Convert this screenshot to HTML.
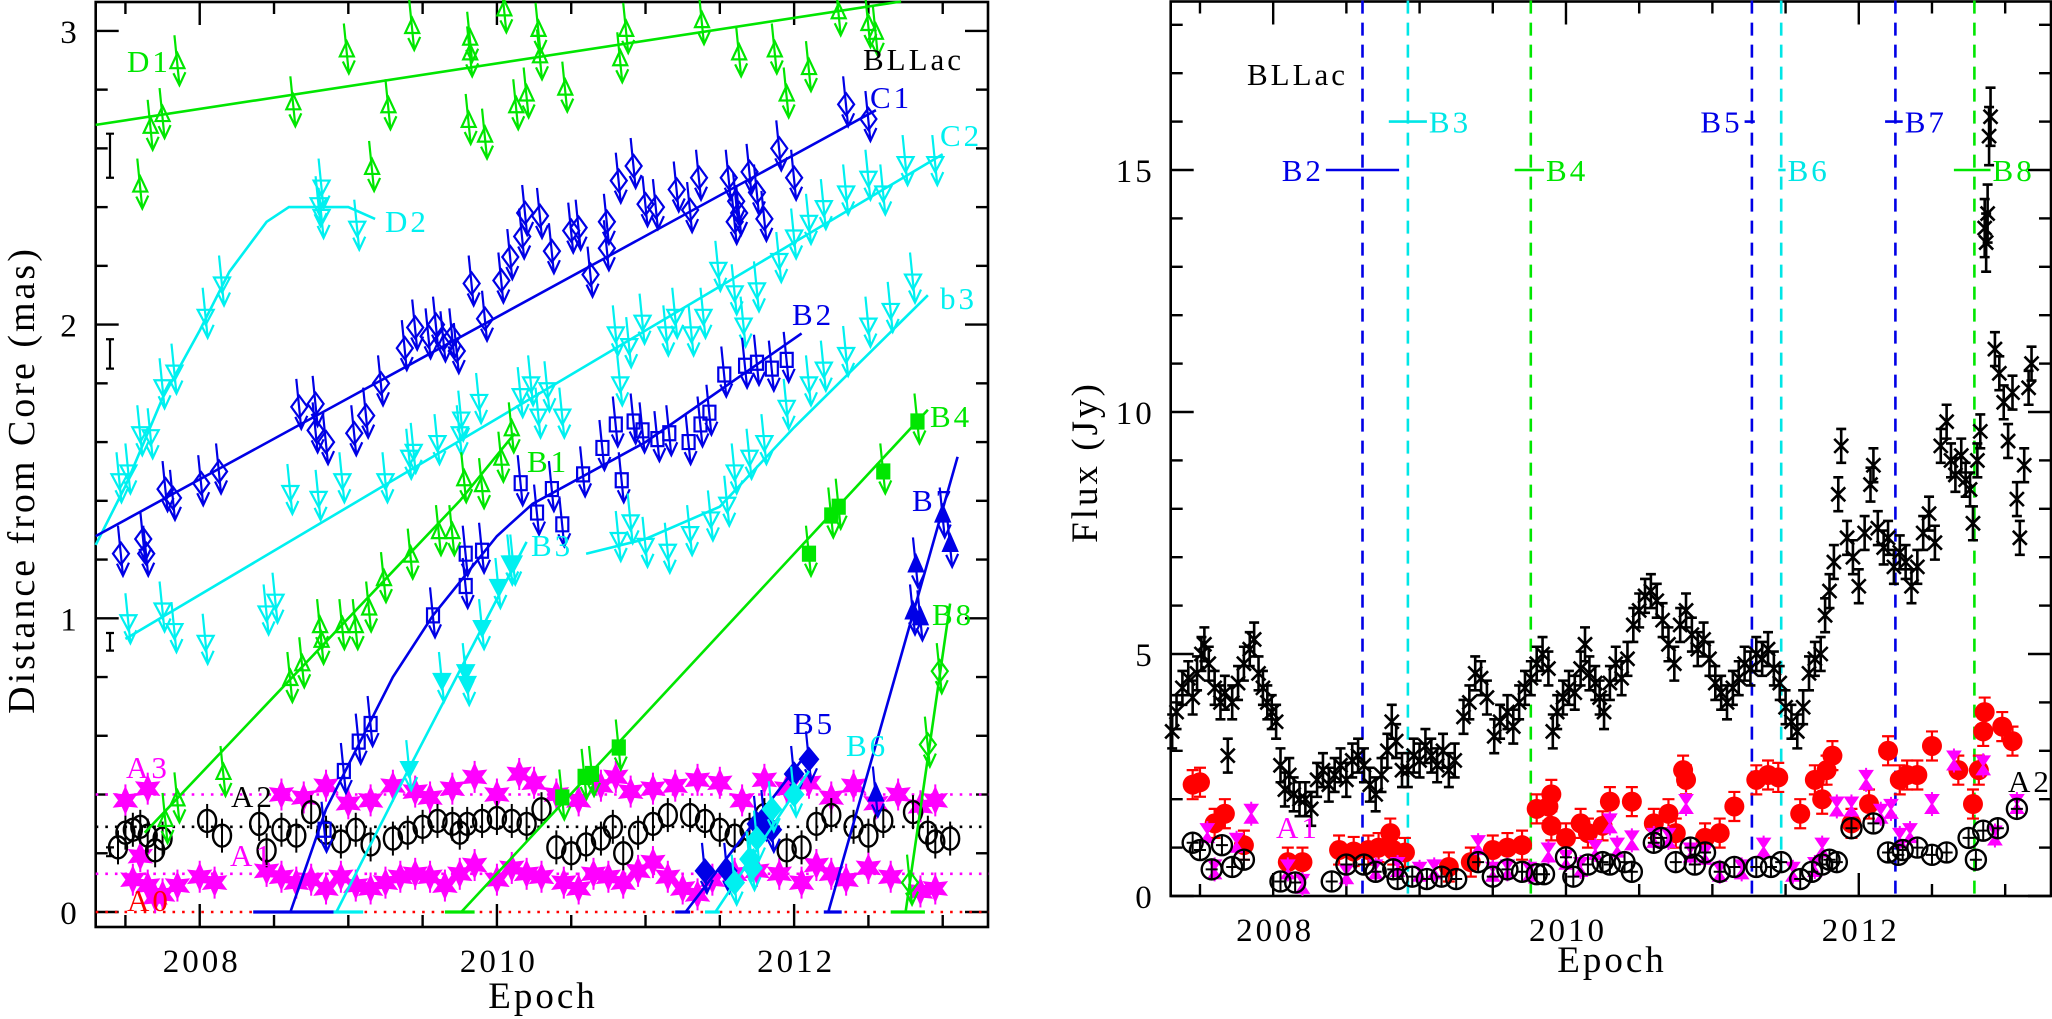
<!DOCTYPE html>
<html><head><meta charset="utf-8"><style>
html,body{margin:0;padding:0;background:#fff;}
svg{display:block;}
text{font-family:"Liberation Serif",serif;letter-spacing:3px;}
</style></head><body>
<svg id="fig" width="2052" height="1019" viewBox="0 0 2052 1019" xmlns="http://www.w3.org/2000/svg">
<rect x="0" y="0" width="2052" height="1019" fill="#fff"/>
<g id="left"></g>
<g id="right"></g>
</svg>
<script>
// ===== LEFT PANEL DATA (year, distance mas) =====
const d1Pts=[[2007.6,2.47],[2007.67,2.67],[2007.75,2.71],[2007.85,2.89],[2008.63,2.75],[2008.99,2.93],[2009.16,2.53],[2009.27,2.74],[2009.43,3.01],[2009.81,2.69],[2009.82,2.92],[2009.82,2.97],[2009.92,2.64],[2010.05,3.07],[2010.13,2.74],[2010.2,2.78],[2010.28,3.0],[2010.29,2.91],[2010.46,2.8],[2010.83,2.9],[2010.87,3.0],[2011.38,3.03],[2011.63,2.92],[2011.87,2.93],[2011.95,2.78],[2012.1,2.87],[2012.3,3.06],[2012.5,3.02],[2012.55,2.99]];
const d1Line=[[2007.3,2.68],[2012.72,3.1]];
const d2Pts=[[2007.46,1.47],[2007.52,1.5],[2007.6,1.63],[2007.67,1.62],[2007.75,1.79],[2007.83,1.84],[2008.04,2.03],[2008.15,2.14],[2008.8,2.41],[2008.82,2.47],[2008.82,2.37],[2009.06,2.33]];
const d2Line=[[2007.3,1.25],[2007.5,1.45],[2007.75,1.75],[2008.0,1.98],[2008.2,2.18],[2008.45,2.35],[2008.6,2.4],[2009.0,2.4],[2009.18,2.36]];
const c1Pts=[[2007.47,1.22],[2007.62,1.27],[2007.64,1.22],[2007.77,1.44],[2007.82,1.41],[2008.01,1.46],[2008.13,1.5],[2008.67,1.72],[2008.78,1.73],[2008.78,1.64],[2008.85,1.6],[2009.04,1.63],[2009.12,1.69],[2009.22,1.8],[2009.38,1.92],[2009.45,1.99],[2009.54,1.96],[2009.59,2.0],[2009.64,1.95],[2009.7,1.96],[2009.73,1.91],[2009.83,2.14],[2009.92,2.02],[2010.03,2.15],[2010.09,2.23],[2010.17,2.3],[2010.19,2.38],[2010.29,2.37],[2010.37,2.25],[2010.5,2.32],[2010.55,2.33],[2010.63,2.17],[2010.74,2.35],[2010.74,2.26],[2010.82,2.49],[2010.92,2.54],[2011.0,2.41],[2011.07,2.4],[2011.21,2.46],[2011.3,2.39],[2011.36,2.5],[2011.56,2.5],[2011.6,2.35],[2011.61,2.42],[2011.63,2.38],[2011.7,2.52],[2011.75,2.45],[2011.8,2.36],[2011.9,2.6],[2012.0,2.5],[2012.35,2.75],[2012.5,2.7]];
const c1Line=[[2007.3,1.28],[2012.55,2.73]];
const c2Pts=[[2007.52,0.99],[2007.75,1.03],[2007.83,0.96],[2008.04,0.92],[2008.45,1.02],[2008.51,1.06],[2008.61,1.43],[2008.8,1.41],[2008.96,1.47],[2009.25,1.47],[2009.41,1.55],[2009.44,1.57],[2009.6,1.6],[2009.75,1.63],[2009.76,1.68],[2009.88,1.74],[2010.16,1.76],[2010.23,1.8],[2010.28,1.69],[2010.34,1.78],[2010.44,1.69],[2010.8,1.97],[2010.83,1.8],[2010.89,1.93],[2010.98,2.01],[2011.14,1.97],[2011.2,2.03],[2011.31,1.97],[2011.39,2.03],[2011.49,2.19],[2011.6,2.11],[2011.66,2.0],[2011.75,2.12],[2011.9,2.22],[2012.0,2.3],[2012.1,2.35],[2012.2,2.4],[2012.35,2.45],[2012.5,2.5],[2012.6,2.45],[2012.75,2.55],[2012.95,2.55]];
const c2Line=[[2007.5,0.93],[2013.0,2.58]];
const b1Pts=[[2007.77,0.31],[2007.85,0.38],[2008.16,0.47],[2008.61,0.79],[2008.69,0.84],[2008.81,0.97],[2008.82,0.92],[2008.96,0.97],[2009.05,0.97],[2009.14,1.03],[2009.24,1.13],[2009.42,1.21],[2009.61,1.29],[2009.7,1.29],[2009.78,1.47],[2009.9,1.45],[2010.03,1.54],[2010.1,1.64]];
const b1Line=[[2007.63,0.27],[2009.75,1.4],[2010.12,1.63]];
const b2Pts=[[2008.84,0.28],[2008.97,0.48],[2009.07,0.58],[2009.15,0.64],[2009.57,1.01],[2009.79,1.22],[2009.79,1.11],[2009.9,1.23],[2010.16,1.46],[2010.27,1.36],[2010.37,1.44],[2010.44,1.32],[2010.58,1.49],[2010.71,1.58],[2010.8,1.66],[2010.84,1.47],[2010.92,1.67],[2010.98,1.64],[2011.08,1.61],[2011.16,1.63],[2011.29,1.6],[2011.37,1.66],[2011.43,1.7],[2011.53,1.83],[2011.67,1.86],[2011.75,1.87],[2011.85,1.85],[2011.95,1.88]];
const b2Line=[[2008.61,0],[2008.85,0.35],[2009.3,0.8],[2009.57,1.01],[2010.0,1.28],[2010.24,1.39],[2011.0,1.6],[2012.05,1.97]];
const b3Pts=[[2009.41,0.49],[2009.63,0.79],[2009.79,0.82],[2009.8,0.78],[2009.9,0.97],[2010.01,1.11],[2010.09,1.19],[2010.11,1.19]];
const b3Line=[[2008.92,0],[2009.41,0.49],[2010.2,1.26]];
const b3sPts=[[2010.82,1.27],[2010.9,1.33],[2011.0,1.25],[2011.15,1.23],[2011.3,1.29],[2011.44,1.34],[2011.55,1.39],[2011.6,1.5],[2011.7,1.55],[2011.8,1.6],[2011.95,1.72],[2012.1,1.8],[2012.2,1.85],[2012.35,1.9],[2012.5,2.0],[2012.65,2.05],[2012.8,2.15]];
const b3sLine=[[2010.6,1.22],[2011.0,1.27],[2011.5,1.38],[2012.0,1.65],[2012.9,2.1]];
const b4Pts=[[2010.44,0.39],[2010.59,0.46],[2010.64,0.47],[2010.82,0.56],[2012.1,1.22],[2012.25,1.35],[2012.3,1.38],[2012.6,1.5],[2012.83,1.67]];
const b4Line=[[2009.76,0],[2012.9,1.71]];
const b5Pts=[[2011.4,0.14],[2011.55,0.14],[2011.75,0.3],[2011.8,0.32],[2011.85,0.28],[2012.0,0.47],[2012.1,0.52]];
const b5Line=[[2011.27,0],[2012.1,0.55]];
const b6Pts=[[2011.6,0.1],[2011.7,0.18],[2011.72,0.15],[2011.75,0.25],[2011.85,0.35],[2012.0,0.4]];
const b6Line=[[2011.47,0],[2012.1,0.48]];
const b7Pts=[[2012.55,0.4],[2012.8,1.02],[2012.82,1.18],[2012.85,1.0],[2013.0,1.35],[2013.05,1.25]];
const b7Line=[[2012.23,0],[2013.1,1.55]];
const b8Pts=[[2012.78,0.1],[2012.9,0.57],[2012.98,0.82]];
const b8Line=[[2012.75,0],[2013.05,1.05]];
const baseSegs=[[2008.36,2008.9,'#0000e6'],[2008.9,2009.1,'#00f0f0'],[2009.65,2009.85,'#00e600'],[2011.2,2011.3,'#0000e6'],[2011.4,2011.5,'#00f0f0'],[2012.2,2012.32,'#0000e6'],[2012.65,2012.88,'#00e600']];
const a2Pts=[[2007.45,0.22],[2007.5,0.27],[2007.55,0.28],[2007.6,0.29],[2007.65,0.26],[2007.7,0.21],[2007.75,0.25],[2008.05,0.31],[2008.15,0.26],[2008.4,0.3],[2008.45,0.21],[2008.55,0.28],[2008.65,0.26],[2008.75,0.34],[2008.85,0.27],[2008.95,0.24],[2009.05,0.28],[2009.15,0.23],[2009.3,0.25],[2009.4,0.27],[2009.5,0.29],[2009.6,0.31],[2009.7,0.3],[2009.75,0.27],[2009.8,0.3],[2009.9,0.31],[2010.0,0.32],[2010.1,0.31],[2010.2,0.3],[2010.3,0.35],[2010.4,0.22],[2010.5,0.2],[2010.6,0.23],[2010.7,0.25],[2010.78,0.29],[2010.85,0.2],[2010.95,0.27],[2011.05,0.3],[2011.15,0.33],[2011.3,0.33],[2011.4,0.31],[2011.5,0.28],[2011.6,0.26],[2011.7,0.28],[2011.8,0.33],[2011.95,0.21],[2012.05,0.22],[2012.15,0.3],[2012.25,0.33],[2012.4,0.29],[2012.5,0.26],[2012.6,0.31],[2012.8,0.34],[2012.9,0.27],[2012.95,0.24],[2013.05,0.25]];
const a3Pts=[[2007.5,0.38],[2007.65,0.42],[2008.55,0.4],[2008.7,0.39],[2008.85,0.43],[2009.0,0.37],[2009.15,0.38],[2009.3,0.43],[2009.45,0.41],[2009.55,0.39],[2009.7,0.42],[2009.85,0.46],[2010.0,0.4],[2010.15,0.47],[2010.25,0.44],[2010.4,0.4],[2010.55,0.38],[2010.7,0.43],[2010.8,0.46],[2010.9,0.41],[2011.05,0.42],[2011.2,0.43],[2011.35,0.45],[2011.5,0.44],[2011.65,0.38],[2011.8,0.45],[2011.95,0.42],[2012.1,0.44],[2012.25,0.39],[2012.4,0.43],[2012.55,0.37],[2012.7,0.4],[2012.85,0.36],[2012.95,0.38]];
const a1Pts=[[2007.55,0.11],[2007.6,0.19],[2007.65,0.09],[2007.7,0.05],[2007.75,0.06],[2007.85,0.09],[2008.0,0.12],[2008.1,0.1],[2008.45,0.14],[2008.55,0.12],[2008.65,0.1],[2008.75,0.11],[2008.85,0.08],[2008.95,0.12],[2009.05,0.09],[2009.15,0.08],[2009.25,0.1],[2009.35,0.12],[2009.45,0.13],[2009.55,0.12],[2009.65,0.09],[2009.75,0.13],[2009.85,0.16],[2010.0,0.11],[2010.1,0.15],[2010.2,0.13],[2010.3,0.12],[2010.45,0.1],[2010.55,0.08],[2010.65,0.13],[2010.75,0.12],[2010.85,0.1],[2010.95,0.14],[2011.05,0.17],[2011.15,0.12],[2011.25,0.08],[2011.35,0.06],[2011.45,0.11],[2011.6,0.13],[2011.75,0.14],[2011.9,0.13],[2012.05,0.1],[2012.15,0.16],[2012.25,0.13],[2012.35,0.11],[2012.5,0.15],[2012.65,0.12],[2012.85,0.07],[2012.95,0.08]];
const refLevels=[[0.4,'#ff00ff'],[0.29,'#000'],[0.13,'#ff00ff'],[0,'#ff0000']];
const errBars=[[2.5,2.65],[1.85,1.95],[0.89,0.95],[0.19,0.22]];
const leftXTicks=[2008,2010,2012];
const leftYTicks=[0,1,2,3];

// ===== RIGHT PANEL DATA (year, flux Jy) =====
const totalFlux=[[2007.31,3.4],[2007.34,3.8],[2007.38,4.3],[2007.42,4.5],[2007.45,4.1],[2007.48,4.6],[2007.51,5.0],[2007.53,5.2],[2007.56,4.8],[2007.6,4.3],[2007.64,4.0],[2007.67,4.2],[2007.69,2.9],[2007.72,4.0],[2007.76,4.4],[2007.8,4.8],[2007.84,5.1],[2007.87,5.3],[2007.9,4.6],[2007.93,4.3],[2007.96,4.0],[2007.99,3.8],[2008.02,3.6],[2008.05,2.7],[2008.08,2.2],[2008.11,2.5],[2008.14,2.1],[2008.18,2.0],[2008.22,2.0],[2008.26,1.8],[2008.3,2.4],[2008.34,2.6],[2008.38,2.3],[2008.42,2.5],[2008.46,2.7],[2008.5,2.4],[2008.54,2.8],[2008.58,2.9],[2008.62,2.7],[2008.66,2.3],[2008.7,2.1],[2008.74,2.5],[2008.78,3.0],[2008.81,3.6],[2008.84,3.2],[2008.88,2.6],[2008.92,2.6],[2008.96,2.9],[2009.0,2.8],[2009.04,3.1],[2009.08,2.9],[2009.12,2.7],[2009.16,3.0],[2009.2,2.6],[2009.24,2.8],[2009.3,3.7],[2009.34,4.0],[2009.38,4.6],[2009.42,4.5],[2009.46,4.1],[2009.51,3.3],[2009.55,3.6],[2009.6,3.8],[2009.64,3.5],[2009.68,4.0],[2009.72,4.3],[2009.76,4.5],[2009.8,4.8],[2009.84,5.0],[2009.88,4.7],[2009.91,3.4],[2009.94,3.8],[2009.98,4.1],[2010.02,4.3],[2010.06,4.2],[2010.1,4.7],[2010.13,5.2],[2010.16,4.6],[2010.2,4.4],[2010.23,4.1],[2010.26,3.8],[2010.3,4.4],[2010.34,4.8],[2010.38,4.5],[2010.42,4.9],[2010.46,5.6],[2010.5,5.9],[2010.54,6.2],[2010.58,6.3],[2010.62,6.1],[2010.66,5.7],[2010.7,5.2],[2010.74,4.8],[2010.78,5.6],[2010.82,5.9],[2010.86,5.4],[2010.9,5.1],[2010.94,5.3],[2010.98,4.9],[2011.02,4.4],[2011.06,4.2],[2011.1,4.0],[2011.14,4.3],[2011.18,4.5],[2011.22,4.8],[2011.26,4.7],[2011.3,5.0],[2011.34,4.9],[2011.38,5.1],[2011.42,4.7],[2011.46,4.4],[2011.5,3.9],[2011.54,3.6],[2011.58,3.4],[2011.62,3.9],[2011.66,4.6],[2011.7,4.9],[2011.74,5.0],[2011.77,5.8],[2011.8,6.3],[2011.83,6.9],[2011.86,8.3],[2011.88,9.3],[2011.92,7.4],[2011.96,7.0],[2012.0,6.4],[2012.04,7.5],[2012.08,8.5],[2012.1,8.9],[2012.13,7.6],[2012.17,7.2],[2012.2,7.4],[2012.24,6.8],[2012.28,7.1],[2012.32,6.9],[2012.36,6.4],[2012.4,6.8],[2012.44,7.5],[2012.48,7.9],[2012.52,7.3],[2012.56,9.3],[2012.6,9.8],[2012.63,9.0],[2012.66,8.7],[2012.7,9.1],[2012.73,8.6],[2012.76,8.4],[2012.78,7.7],[2012.81,9.0],[2012.83,9.6],[2012.86,13.8],[2012.87,13.5],[2012.88,14.1],[2012.89,15.7],[2012.9,16.1],[2012.93,11.3],[2012.96,10.8],[2012.99,10.2],[2013.02,9.4],[2013.05,10.4],[2013.08,8.2],[2013.1,7.4],[2013.13,8.9],[2013.16,10.5],[2013.18,11.0]];
const a0Flux=[[2007.45,2.3],[2007.5,2.35],[2007.6,1.5],[2007.67,1.7],[2007.8,1.05],[2008.1,0.7],[2008.2,0.7],[2008.45,0.95],[2008.55,0.92],[2008.65,0.95],[2008.72,1.0],[2008.8,1.3],[2008.82,0.95],[2008.9,0.9],[2009.2,0.6],[2009.35,0.7],[2009.5,0.95],[2009.6,1.0],[2009.7,1.05],[2009.8,1.8],[2009.88,1.85],[2009.9,2.1],[2009.9,1.45],[2010.0,1.2],[2010.1,1.5],[2010.15,1.3],[2010.25,1.45],[2010.3,1.95],[2010.45,1.95],[2010.6,1.5],[2010.7,1.7],[2010.75,1.3],[2010.8,2.6],[2010.82,2.4],[2010.95,1.2],[2011.05,1.3],[2011.15,1.85],[2011.3,2.4],[2011.38,2.5],[2011.45,2.45],[2011.6,1.7],[2011.7,2.4],[2011.75,2.0],[2011.78,2.6],[2011.82,2.9],[2011.95,1.5],[2012.07,1.9],[2012.2,3.0],[2012.28,2.4],[2012.33,2.5],[2012.4,2.5],[2012.5,3.1],[2012.68,2.6],[2012.78,1.9],[2012.82,2.6],[2012.85,3.4],[2012.86,3.8],[2012.98,3.5],[2013.05,3.2]];
const a1Flux=[[2007.55,1.3],[2007.6,0.55],[2007.75,1.1],[2007.85,1.7],[2008.1,0.55],[2008.2,0.25],[2008.5,0.45],[2008.7,0.55],[2008.85,0.6],[2009.0,0.5],[2009.1,0.55],[2009.4,1.05],[2009.5,0.5],[2009.6,0.55],[2009.75,0.5],[2009.88,0.9],[2010.0,0.75],[2010.1,0.6],[2010.2,0.95],[2010.3,1.5],[2010.35,1.0],[2010.45,1.15],[2010.6,1.2],[2010.7,1.2],[2010.82,1.9],[2010.85,0.9],[2010.95,0.85],[2011.05,0.5],[2011.2,0.55],[2011.35,1.0],[2011.55,0.5],[2011.7,0.6],[2011.75,1.0],[2011.85,1.85],[2011.95,1.85],[2012.05,2.4],[2012.15,1.7],[2012.22,1.8],[2012.28,1.2],[2012.35,1.3],[2012.5,1.9],[2012.65,2.8],[2012.85,2.7],[2012.93,1.25],[2013.08,1.9]];
const a2Flux=[[2007.45,1.1],[2007.5,0.95],[2007.58,0.55],[2007.65,1.05],[2007.72,0.6],[2007.8,0.75],[2008.05,0.3],[2008.15,0.28],[2008.4,0.3],[2008.5,0.65],[2008.62,0.65],[2008.7,0.5],[2008.82,0.55],[2008.85,0.35],[2008.95,0.4],[2009.05,0.35],[2009.15,0.4],[2009.25,0.35],[2009.4,0.7],[2009.5,0.4],[2009.6,0.55],[2009.7,0.5],[2009.8,0.45],[2009.85,0.45],[2010.0,0.8],[2010.05,0.4],[2010.15,0.65],[2010.25,0.7],[2010.3,0.65],[2010.4,0.7],[2010.45,0.5],[2010.6,1.1],[2010.65,1.2],[2010.75,0.7],[2010.85,1.0],[2010.88,0.65],[2010.95,0.9],[2011.05,0.5],[2011.15,0.6],[2011.3,0.6],[2011.4,0.6],[2011.47,0.7],[2011.6,0.35],[2011.68,0.5],[2011.75,0.65],[2011.8,0.75],[2011.85,0.7],[2011.95,1.4],[2012.1,1.5],[2012.2,0.9],[2012.27,0.85],[2012.3,0.95],[2012.4,1.0],[2012.5,0.85],[2012.6,0.9],[2012.75,1.2],[2012.8,0.75],[2012.85,1.35],[2012.95,1.4],[2013.08,1.8]];
const ejectEpochs=[[2008.61,'#0000e6'],[2008.92,'#00e6e6'],[2009.76,'#00e600'],[2011.27,'#0000e6'],[2011.47,'#00e6e6'],[2012.25,'#0000e6'],[2012.79,'#00e600']];
const ejectRanges=[['B2',2008.36,2008.86,15,'#0000e6'],['B3',2008.79,2009.05,16,'#00e6e6'],['B4',2009.65,2009.85,15,'#00e600'],['B5',2011.22,2011.29,16,'#0000e6'],['B6',2011.45,2011.5,15,'#00e6e6'],['B7',2012.18,2012.3,16,'#0000e6'],['B8',2012.65,2012.9,15,'#00e600']];
const rightXTicks=[2008,2010,2012];
const rightYTicks=[0,5,10,15];

const NS='http://www.w3.org/2000/svg';
const L=document.getElementById('left'), R=document.getElementById('right');
const X=y=>95.7+(y-2007.3)*148.6, Y=m=>912-m*293.7;
const XR=y=>1170.7+(y-2007.3)*146.4, YR=f=>896-f*48.4;
function el(tag,parent){const e=document.createElementNS(NS,tag);parent.appendChild(e);return e;}
function set(e,o){for(const k in o)e.setAttribute(k,o[k]);return e;}
function txt(parent,x,y,s,size,color,anchor,rot){const t=el('text',parent);set(t,{x:x,y:y,'font-size':size,fill:color,'text-anchor':anchor||'start'});if(rot)t.setAttribute('transform','rotate(-90 '+x+' '+y+')');t.textContent=s;return t;}

function frame(parent,x0,y0,x1,y1,xt,xf,yf,yMaj,yMin,yLo,yHi,xLabs,yLabs,pre){
  const r=el('rect',parent);set(r,{x:x0,y:y0,width:x1-x0,height:y1-y0,fill:'none',stroke:'#000','stroke-width':2.6});
  
  const g=el('g',parent);set(g,{stroke:'#000','stroke-width':2.4});
  
  for(let yr=2007.5;yr<=2013.01;yr+=0.5){const px=xf(yr);const maj=Math.abs(yr-Math.round(yr/2)*2)<0.01;const len=maj?23:12;
    set(el('line',g),{x1:px,y1:y1,x2:px,y2:y1-len});set(el('line',g),{x1:px,y1:y0,x2:px,y2:y0+len});}
  for(let v=yLo;v<=yHi+1e-6;v+=yMin){const py=yf(v);if(py<y0+1||py>y1)continue;const maj=Math.abs(v/yMaj-Math.round(v/yMaj))<0.01;const len=maj?23:12;
    set(el('line',g),{x1:x0,y1:py,x2:x0+len,y2:py});set(el('line',g),{x1:x1,y1:py,x2:x1-len,y2:py});}
  xLabs.forEach(v=>{const t=txt(parent,xf(v)+2,y1+45,String(v),33,'#000','middle');});
  yLabs.forEach(v=>{const t=txt(parent,x0-16,yf(v)+12,String(v),33,'#000','end');});
}
function poly(parent,pts,xf,yf,color,w,dash){const p=el('polyline',parent);set(p,{points:pts.map(q=>xf(q[0]).toFixed(1)+','+yf(q[1]).toFixed(1)).join(' '),fill:'none',stroke:color,'stroke-width':w});if(dash)p.setAttribute('stroke-dasharray',dash);return p;}
function arrow(g,x,y,c){set(el('path',g),{d:'M'+(x-3)+','+(y-28)+' L'+(x+2)+','+(y+22)+' M'+(x-4)+','+(y+10)+' L'+(x+2)+','+(y+22)+' L'+(x+8)+','+(y+9),fill:'none',stroke:c,'stroke-width':2.2});}
function marker(g,x,y,shape,c){
  let d='',fill='none';
  if(shape==='triUp'){d='M'+x+','+(y-10)+' L'+(x+7)+','+(y+5)+' L'+(x-7)+','+(y+5)+' Z';}
  else if(shape==='triDown'){d='M'+(x-8)+','+(y-6)+' L'+(x+8)+','+(y-6)+' L'+x+','+(y+9)+' Z';}
  else if(shape==='ftriDown'){d='M'+(x-8)+','+(y-6)+' L'+(x+8)+','+(y-6)+' L'+x+','+(y+9)+' Z';fill=c;}
  else if(shape==='diamond'){d='M'+x+','+(y-11)+' L'+(x+8)+','+y+' L'+x+','+(y+11)+' L'+(x-8)+','+y+' Z';}
  else if(shape==='fdiamond'){d='M'+x+','+(y-11)+' L'+(x+9)+','+y+' L'+x+','+(y+11)+' L'+(x-9)+','+y+' Z';fill=c;}
  else if(shape==='square'){d='M'+(x-6)+','+(y-7)+' h12 v14 h-12 Z';}
  else if(shape==='fsquare'){d='M'+(x-6)+','+(y-7)+' h12 v14 h-12 Z';fill=c;}
  else if(shape==='ftri'){d='M'+x+','+(y-10)+' L'+(x+7)+','+(y+6)+' L'+(x-7)+','+(y+6)+' Z';fill=c;}
  else if(shape==='star'){let s='';for(let i=0;i<12;i++){const a=i*Math.PI/6-Math.PI/2,r=i%2?6:12;s+=(i?'L':'M')+(x+r*Math.cos(a)).toFixed(1)+','+(y+r*Math.sin(a)).toFixed(1);}d=s+'Z';fill=c;
    set(el('line',g),{x1:x,y1:y-16,x2:x,y2:y+16,stroke:c,'stroke-width':2});}
  else if(shape==='phi'){set(el('ellipse',g),{cx:x,cy:y,rx:9,ry:11,fill:'none',stroke:c,'stroke-width':2.4});set(el('line',g),{x1:x,y1:y-17,x2:x,y2:y+17,stroke:c,'stroke-width':2});return;}
  set(el('path',g),{d:d,fill:fill,stroke:c,'stroke-width':2.2});
}
function series(parent,pts,shape,c,useArrow){pts.forEach(q=>{const x=X(q[0]),y=Y(q[1]);marker(parent,x,y,shape,c);if(useArrow)arrow(parent,x,y,c);});}

// ===== LEFT PANEL =====
frame(L,95.7,2,988,927,null,X,Y,1,0.2,0,3.1,leftXTicks,leftYTicks,'left');
const refG=el('g',L);
refLevels.forEach(r=>{poly(refG,[[2007.3,r[0]],[2013.31,r[0]]],X,Y,r[1],2.6,'2.6 7');});
const ebG=el('g',L);
errBars.forEach(e=>{const x=110;set(el('path',ebG),{d:'M'+x+','+Y(e[1])+' V'+Y(e[0])+' M'+(x-4)+','+Y(e[1])+' h8 M'+(x-4)+','+Y(e[0])+' h8',stroke:'#000','stroke-width':2.2,fill:'none'});});
const baseG=el('g',L);
baseSegs.forEach(s=>{poly(baseG,[[s[0],0],[s[1],0]],X,Y,s[2],3.2);});
const G='#00e600',B='#0000e6',C='#00f0f0',M='#ff00ff';
const comps=[
 ['d1',d1Pts,d1Line,'triUp',G,true],['d2',d2Pts,d2Line,'triDown',C,true],['c1',c1Pts,c1Line,'diamond',B,true],['c2',c2Pts,c2Line,'triDown',C,true],
 ['b1',b1Pts,b1Line,'triUp',G,true],['b2',b2Pts,b2Line,'square',B,true],['b3',b3Pts,b3Line,'ftriDown',C,true],['b3-small',b3sPts,b3sLine,'triDown',C,true],
 ['b4',b4Pts,b4Line,'fsquare',G,true],['b5',b5Pts,b5Line,'fdiamond',B,true],['b6',b6Pts,b6Line,'fdiamond',C,true],['b7',b7Pts,b7Line,'ftri',B,true],['b8',b8Pts,b8Line,'diamond',G,true]];
const a1G=el('g',L);series(a1G,a1Pts,'star',M,false);
const a3G=el('g',L);series(a3G,a3Pts,'star',M,false);
const a2G=el('g',L);series(a2G,a2Pts,'phi','#000',false);
comps.forEach(cp=>{const g=el('g',L);
  
  
  const ln=poly(g,cp[2],X,Y,cp[4],2.6);
  
  
  series(g,cp[1],cp[3],cp[4],cp[5]);});
const leftLabels=[['BLLac',863,70,'#000'],['D1',127,72,G],['D2',385,232,C],['C1',870,108,B],['C2',940,146,C],['B2',792,325,B],['b3',940,309,C],['B4',930,427,G],['B1',527,472,G],['B3',531,556,C],['B7',912,511,B],['B8',932,625,G],['B5',793,734,B],['B6',846,756,C],['A3',126,778,M],['A2',231,807,'#000'],['A1',230,866,M],['A0',127,911,'#ff0000']];
leftLabels.forEach(l=>{const t=txt(L,l[1],l[2],l[0],31,l[3]);});
const lyt=txt(L,34,480,'Distance from Core (mas)',38,'#000','middle',true);
const lxt=txt(L,543,1008,'Epoch',37,'#000','middle');

// ===== RIGHT PANEL =====
frame(R,1170.7,1.5,2051,896,null,XR,YR,5,1,0,18.4,rightXTicks,rightYTicks,'right');
const vG=el('g',R);
ejectEpochs.forEach(e=>{poly(vG,[[e[0],18.5],[e[0],0]],XR,YR,e[1],2.6,'13 9');});
const tG=el('g',R);
totalFlux.forEach(q=>{const x=XR(q[0]),y=YR(q[1]),e=q[1]>12?0.6:0.35;
  set(el('path',tG),{d:'M'+x+','+YR(q[1]+e)+' V'+YR(q[1]-e)+' M'+(x-5)+','+YR(q[1]+e)+' h10 M'+(x-5)+','+YR(q[1]-e)+' h10 M'+(x-7)+','+(y-7)+' l14,14 M'+(x+7)+','+(y-7)+' l-14,14',stroke:'#000','stroke-width':2.6,fill:'none'});});
const rG=el('g',R);
a0Flux.forEach(q=>{const x=XR(q[0]),y=YR(q[1]);set(el('path',rG),{d:'M'+x+','+YR(q[1]+0.3)+' V'+YR(q[1]-0.3)+' M'+(x-6)+','+YR(q[1]+0.3)+' h12 M'+(x-6)+','+YR(q[1]-0.3)+' h12',stroke:'#ff0000','stroke-width':2.2,fill:'none'});set(el('circle',rG),{cx:x,cy:y,r:10,fill:'#ff0000'});});
const mG=el('g',R);
a1Flux.forEach(q=>{const x=XR(q[0]),y=YR(q[1]);set(el('path',mG),{d:'M'+(x-6)+','+(y-9)+' h12 L'+(x-6)+','+(y+9)+' h12 Z',fill:'#ff00ff',stroke:'#ff00ff','stroke-width':2});set(el('line',mG),{x1:x,y1:y-12,x2:x,y2:y+12,stroke:'#ff00ff','stroke-width':2});});
const cG=el('g',R);
a2Flux.forEach(q=>{const x=XR(q[0]),y=YR(q[1]);set(el('circle',cG),{cx:x,cy:y,r:10,fill:'none',stroke:'#000','stroke-width':2.4});set(el('path',cG),{d:'M'+x+','+(y-9)+' V'+(y+9)+' M'+(x-6)+','+y+' h12',stroke:'#000','stroke-width':2,fill:'none'});});
ejectRanges.forEach(r=>{const g=el('g',R);
  
  
  poly(g,[[r[1],r[3]],[r[2],r[3]]],XR,YR,r[4],2.6);
  const left=(r[0]==='B2'||r[0]==='B5');
  txt(g,left?XR(r[1])-2:XR(r[2])+2,YR(r[3])+11,r[0],31,r[4],left?'end':'start');});
const bl=txt(R,1247,85,'BLLac',31,'#000');
const ra1=txt(R,1276,838,'A1',31,M);
const ra2=txt(R,2008,792,'A2',31,'#000');
const ryt=txt(R,1097,462,'Flux (Jy)',37,'#000','middle',true);
const rxt=txt(R,1612,972,'Epoch',37,'#000','middle');
</script>
</body></html>
